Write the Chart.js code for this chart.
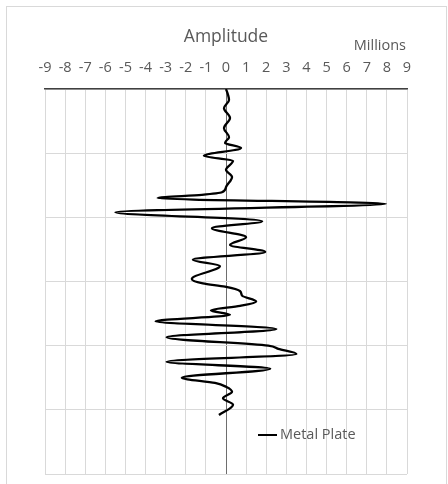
<!DOCTYPE html>
<html><head><meta charset="utf-8">
<script src="https://cdn.jsdelivr.net/npm/chart.js@4"></script>
<style>html,body{margin:0;padding:0;background:#fff}#wrap{width:448px;height:484px;position:relative}</style>
</head><body><div id="wrap"><canvas id="c"></canvas></div>
<script>
const seriesName = 'Metal Plate';
const axisTitle = 'Amplitude';
const unitLabel = 'Millions';
const xTickValues = [-9, -8, -7, -6, -5, -4, -3, -2, -1, 0, 1, 2, 3, 4, 5, 6, 7, 8, 9];
const depthGrid = [0, 100, 200, 300, 400, 500, 600];
// depth (vertical, increasing downward) and amplitude (millions)
const depth = [0, 9, 17, 30, 45, 61, 75, 84, 92, 104, 112, 126, 137, 153, 161, 165, 170, 179, 192, 206, 217, 231, 243, 254, 266, 276, 296, 303, 308, 315, 322, 331, 338, 345, 352, 362, 374, 387, 400, 405, 413, 425, 436, 450, 458, 464, 472, 482, 492, 508];
const amplitude = [0, 0.1, 0.15, -0.1, 0.2, -0.1, 0.15, -0.05, 0.75, -1.1, 0.35, 0.0, 0.3, 0.0, -0.2, -1.2, -3.4, 7.95, -5.5, 1.8, -0.7, 1.0, 0.2, 1.95, -1.65, -0.3, -1.7, -1.15, -0.05, 0.7, 0.8, 1.5, 0.7, -0.75, 0.2, -3.5, 2.5, -2.95, 2.1, 2.6, 3.5, -2.95, 2.2, -2.2, -0.55, 0.0, 0.3, -0.15, 0.35, -0.35];

const points = depth.map((d, i) => ({ x: amplitude[i], y: d }));
const FONT = 'Open Sans';
const GREY = '#595959';

const decor = {
  id: 'decor',
  beforeDraw(chart) {
    const ctx = chart.ctx;
    ctx.save();
    ctx.fillStyle = '#fff';
    ctx.fillRect(0, 0, chart.width, chart.height);
    ctx.strokeStyle = '#d9d9d9';
    ctx.lineWidth = 1;
    ctx.strokeRect(6.5, 6.5, 440, 500);
    ctx.restore();
  },
  afterDraw(chart) {
    const ctx = chart.ctx;
    const area = chart.chartArea;
    ctx.save();
    ctx.fillStyle = GREY;
    ctx.font = '14.5px "' + FONT + '"';
    ctx.textAlign = 'right';
    ctx.textBaseline = 'middle';
    ctx.fillText(unitLabel, area.right - 1, 46);
    // legend
    const ly = area.bottom - 39;
    const lx = area.left + 213;
    ctx.strokeStyle = '#000';
    ctx.lineWidth = 2;
    ctx.beginPath();
    ctx.moveTo(lx, ly);
    ctx.lineTo(lx + 19, ly);
    ctx.stroke();
    ctx.textAlign = 'left';
    ctx.fillText(chart.data.datasets[0].label, lx + 22, ly);
    ctx.restore();
  }
};

new Chart(document.getElementById('c'), {
  type: 'line',
  data: {
    datasets: [{
      label: seriesName,
      data: points,
      borderColor: '#000',
      borderWidth: 2.3,
      pointRadius: 0,
      fill: false,
      cubicInterpolationMode: 'monotone'
    }]
  },
  options: {
    indexAxis: 'y',
    responsive: true,
    maintainAspectRatio: false,
    animation: false,
    layout: { padding: { left: 45, right: 41, top: 0, bottom: 10 } },
    plugins: { legend: { display: false }, tooltip: { enabled: false } },
    scales: {
      x: {
        type: 'linear',
        position: 'top',
        min: -9, max: 9,
        afterBuildTicks: s => { s.ticks = xTickValues.map(v => ({ value: v })); },
        afterFit: s => { s.height = 89; },
        ticks: { color: GREY, font: { family: FONT, size: 14.5 }, padding: 12, autoSkip: false, maxRotation: 0 },
        grid: { color: c => (c.tick && c.tick.value === 0) ? '#6e6e6e' : '#d9d9d9', drawTicks: false, lineWidth: 1 },
        border: { display: true, color: '#404040', width: 1.5 },
        title: { display: true, text: axisTitle, color: GREY, font: { family: FONT, size: 17.5 }, padding: { top: 27, bottom: 0 } }
      },
      y: {
        type: 'linear',
        reverse: true,
        min: 0, max: 600,
        afterBuildTicks: s => { s.ticks = depthGrid.map(v => ({ value: v })); },
        afterFit: s => { s.width = 0; },
        ticks: { display: false },
        grid: { color: '#d9d9d9', drawTicks: false },
        border: { display: false }
      }
    }
  },
  plugins: [decor]
});
</script>
</body></html>
